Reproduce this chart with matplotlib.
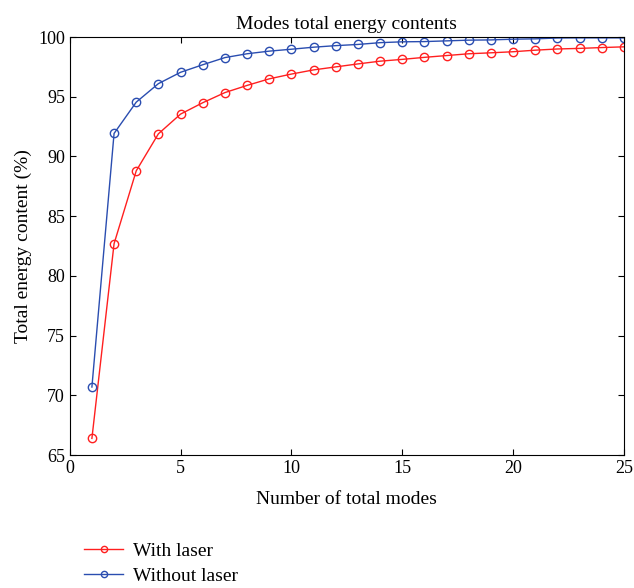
import matplotlib.pyplot as plt

# Data
modes = list(range(1, 26))
with_laser = [66.4, 82.7, 88.8, 91.9, 93.55, 94.5, 95.35, 95.95, 96.5, 96.9,
              97.25, 97.5, 97.75, 97.98, 98.13, 98.3, 98.45, 98.6, 98.68, 98.77,
              98.9, 99.0, 99.05, 99.12, 99.18]
without_laser = [70.7, 91.93, 94.55, 96.1, 97.05, 97.68, 98.28, 98.6, 98.82, 98.98,
                 99.15, 99.28, 99.38, 99.53, 99.6, 99.62, 99.68, 99.74, 99.76, 99.82,
                 99.85, 99.92, 99.93, 99.93, 99.93]

plt.rcParams['font.family'] = ['Liberation Serif', 'DejaVu Serif']

fig = plt.figure(figsize=(6.34, 5.88), dpi=100)
ax = fig.add_axes([0.110, 0.226, 0.874, 0.711])

ax.plot(modes, with_laser, color='#ff1f1f', marker='o', mfc='none',
        markersize=6, linewidth=1, label='With laser')
ax.plot(modes, without_laser, color='#2a4db0', marker='o', mfc='none',
        markersize=6, linewidth=1, label='Without laser')

ax.set_xlim(0, 25)
ax.set_ylim(65, 100)
ax.set_xticks([0, 5, 10, 15, 20, 25])
ax.set_yticks([65, 70, 75, 80, 85, 90, 95, 100])
ax.tick_params(direction='in', top=True, right=True, labelsize=13, length=4)

ax.set_title('Modes total energy contents', fontsize=14, pad=6)
ax.set_xlabel('Number of total modes', fontsize=14, labelpad=10)
ax.set_ylabel('Total energy content (%)', fontsize=14)

fig.legend(loc='lower left', bbox_to_anchor=(0.105, -0.025), frameon=False,
           fontsize=14, handlelength=2, handletextpad=0.5, markerscale=0.75,
           labelspacing=0.4)

plt.savefig('out.png')
